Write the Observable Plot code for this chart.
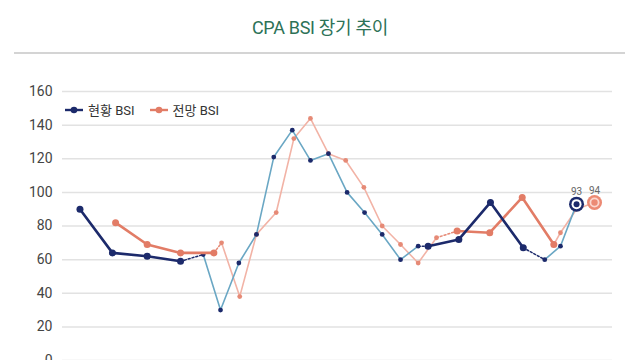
<!DOCTYPE html>
<html><head><meta charset="utf-8">
<script src="https://cdn.jsdelivr.net/npm/d3@7"></script>
<script src="https://cdn.jsdelivr.net/npm/@observablehq/plot@0.6"></script>
<style>
html,body{margin:0;padding:0;background:#fff;width:640px;height:360px;overflow:hidden;font-family:Roboto,"Noto Sans CJK KR",sans-serif;}
#wrap{position:relative;width:640px;height:360px;}
#title{height:53px;box-sizing:border-box;text-align:center;padding-top:13px;font-size:18px;color:#2d7257;font-family:Roboto,"Noto Sans CJK KR",sans-serif;letter-spacing:-0.3px;}
#rule{position:absolute;left:14px;top:52px;width:611px;height:2px;background:#d4d4d4;}
#legend{position:absolute;left:64px;top:100px;display:flex;align-items:center;font-size:13px;color:#333;}
#legend .item{display:flex;align-items:center;margin-right:14px;}
#legend svg{margin-right:4px;}
#chart svg{display:block;}
</style></head>
<body><div id="wrap">
<div id="title">CPA BSI 장기 추이</div>
<div id="rule"></div>
<div id="chart"></div>
<div id="legend"></div>
</div>
<script>
// Series names
const seriesNames = ["현황 BSI", "전망 BSI"];
const yTicks = [0, 20, 40, 60, 80, 100, 120, 140, 160];

// 현황 BSI (current) — period positions and values, by segment
const curT_A = [0, 1.86, 3.85, 5.76];
const curV_A = [90, 64, 62, 59];
const curT_B = [7.06, 8.05, 9.10, 10.11, 11.10, 12.16, 13.2, 14.23, 15.3, 16.3, 17.31, 18.36, 19.37];
const curV_B = [63, 30, 58, 75, 121, 137, 119, 123, 100, 88, 75, 60, 68];
const curT_C = [19.94, 21.7, 23.51, 25.39];
const curV_C = [68, 72, 94, 67];
const curT_D = [26.62, 27.52, 28.44];
const curV_D = [60, 68, 93];

// 전망 BSI (outlook)
const proT_A = [2.04, 3.85, 5.76, 7.67];
const proV_A = [82, 69, 64, 64];
const proT_B = [8.11, 9.15, 10.11, 11.24, 12.25, 13.2, 14.23, 15.22, 16.26, 17.31, 18.36, 19.37, 20.42];
const proV_B = [70, 38, 75, 88, 132, 144, 123, 119, 103, 80, 69, 58, 73];
const proT_C = [21.6, 23.47, 25.33, 27.14];
const proV_C = [77, 76, 97, 69];
const proT_D = [27.14, 27.52, 28.44, 29.47];
const proV_D = [69, 76, 90, 94];

const mk = (ts, vs) => ts.map((t, i) => ({t, v: vs[i]}));
const link = (ta, va, tb, vb) => [{t: ta[ta.length-1], v: va[va.length-1]}, {t: tb[0], v: vb[0]}];

const cA = mk(curT_A, curV_A), cB = mk(curT_B, curV_B), cC = mk(curT_C, curV_C), cD = mk(curT_D, curV_D);
const pA = mk(proT_A, proV_A), pB = mk(proT_B, proV_B), pC = mk(proT_C, proV_C), pD = mk(proT_D, proV_D);
const cDot1 = link(curT_A, curV_A, curT_B, curV_B);
const cDot2 = link(curT_B, curV_B, curT_C, curV_C);
const cDot3 = link(curT_C, curV_C, curT_D, curV_D);
const pDot1 = link(proT_A, proV_A, proT_B, proV_B);
const pDot2 = link(proT_B, proV_B, proT_C, proV_C);
const cLast = [cD[cD.length-1]];
const pLast = [pD[pD.length-1]];

const NAVY = "#1c2a6b", SALMON = "#e27c66", LBLUE = "#6aa7c4", LPINK = "#f2b3a6", PDOT = "#e68a76";

const chart = Plot.plot({
  width: 640, height: 308,
  marginLeft: 62, marginRight: 28, marginTop: 38, marginBottom: 1,
  style: {fontFamily: "Roboto, sans-serif", background: "transparent", overflow: "visible"},
  x: {domain: [-1, 30.5], axis: null},
  y: {domain: [0, 160], ticks: yTicks, tickSize: 0, tickPadding: 10, label: null},
  marks: [
    Plot.gridY(yTicks, {stroke: "#e2e2e2", strokeOpacity: 1, strokeWidth: 1.5}),
    Plot.axisY(yTicks, {tickSize: 0, tickPadding: 10, fontSize: 14, fill: "#444", label: null}),
    // thin segments
    Plot.line(pB, {x: "t", y: "v", stroke: LPINK, strokeWidth: 1.6}),
    Plot.line(pD, {x: "t", y: "v", stroke: LPINK, strokeWidth: 1.6}),
    Plot.line(cB, {x: "t", y: "v", stroke: LBLUE, strokeWidth: 1.6}),
    Plot.line(cD, {x: "t", y: "v", stroke: LBLUE, strokeWidth: 1.6}),
    Plot.dot(pB, {x: "t", y: "v", r: 2.4, fill: PDOT}),
    Plot.dot(pD, {x: "t", y: "v", r: 2.4, fill: PDOT}),
    Plot.dot(cB, {x: "t", y: "v", r: 2.4, fill: NAVY}),
    Plot.dot(cD, {x: "t", y: "v", r: 2.4, fill: NAVY}),
    // dotted links
    Plot.line(pDot1, {x: "t", y: "v", stroke: PDOT, strokeWidth: 1.5, strokeDasharray: "2,2"}),
    Plot.line(pDot2, {x: "t", y: "v", stroke: PDOT, strokeWidth: 1.5, strokeDasharray: "2,2"}),
    Plot.line(cDot1, {x: "t", y: "v", stroke: NAVY, strokeWidth: 1.5, strokeDasharray: "2,2"}),
    Plot.line(cDot2, {x: "t", y: "v", stroke: NAVY, strokeWidth: 1.5, strokeDasharray: "2,2"}),
    Plot.line(cDot3, {x: "t", y: "v", stroke: NAVY, strokeWidth: 1.5, strokeDasharray: "2,2"}),
    // thick segments
    Plot.line(pA, {x: "t", y: "v", stroke: SALMON, strokeWidth: 2.6}),
    Plot.line(pC, {x: "t", y: "v", stroke: SALMON, strokeWidth: 2.6}),
    Plot.line(cA, {x: "t", y: "v", stroke: NAVY, strokeWidth: 2.6}),
    Plot.line(cC, {x: "t", y: "v", stroke: NAVY, strokeWidth: 2.6}),
    Plot.dot(pA, {x: "t", y: "v", r: 3.5, fill: SALMON}),
    Plot.dot(pC, {x: "t", y: "v", r: 3.5, fill: SALMON}),
    Plot.dot(cA, {x: "t", y: "v", r: 3.5, fill: NAVY}),
    Plot.dot(cC, {x: "t", y: "v", r: 3.5, fill: NAVY}),
    // highlighted latest values
    Plot.dot(cLast, {x: "t", y: "v", r: 7.5, fill: NAVY}),
    Plot.dot(cLast, {x: "t", y: "v", r: 5, fill: "#fff"}),
    Plot.dot(cLast, {x: "t", y: "v", r: 3, fill: NAVY}),
    Plot.dot(pLast, {x: "t", y: "v", r: 7.5, fill: "#ec8a74"}),
    Plot.dot(pLast, {x: "t", y: "v", r: 5, fill: "#fbd7cf"}),
    Plot.dot(pLast, {x: "t", y: "v", r: 3.2, fill: "#ec8a74"}),
    Plot.text(cLast, {x: "t", y: "v", text: d => String(d.v), dy: -12, fontSize: 10, fill: "#666"}),
    Plot.text(pLast, {x: "t", y: "v", text: d => String(d.v), dy: -12, fontSize: 10, fill: "#666"})
  ]
});
document.getElementById("chart").appendChild(chart);

// legend
const legendColors = [NAVY, SALMON];
const legend = document.getElementById("legend");
seriesNames.forEach((name, i) => {
  const item = document.createElement("div");
  item.className = "item";
  item.innerHTML = `<svg width="20" height="10"><line x1="1" y1="5" x2="19" y2="5" stroke="${legendColors[i]}" stroke-width="2.4"/><circle cx="10" cy="5" r="3.3" fill="${legendColors[i]}"/></svg><span>${name}</span>`;
  legend.appendChild(item);
});
</script>
</body></html>
